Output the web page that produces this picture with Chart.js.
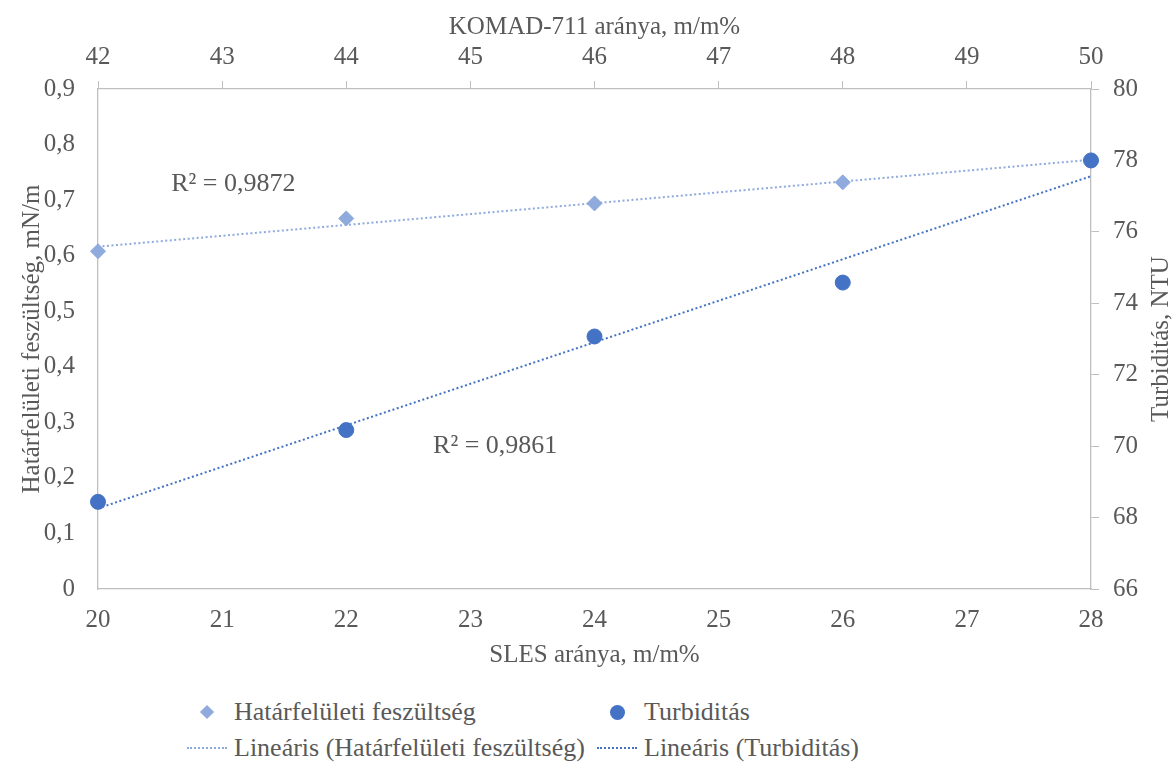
<!DOCTYPE html>
<html>
<head>
<meta charset="utf-8">
<script src="https://cdn.jsdelivr.net/npm/chart.js@4.4.0/dist/chart.umd.min.js"></script>
<style>
body { margin: 0; background: #fff; }
#wrap { position: relative; width: 1174px; height: 762px; }
#area { position: absolute; left: 0; top: 0; width: 1174px; height: 680px; }
#legenda { position: absolute; left: 187px; top: 694px; display: grid; grid-template-columns: 410px auto;
  font-family: 'Liberation Serif'; font-size: 26px; color: #595959; }
.item { display: flex; align-items: center; height: 36px; white-space: nowrap; }
.simbolo { width: 40px; height: 36px; display: flex; align-items: center; justify-content: center; margin-right: 7px; }
</style>
</head>
<body>
<div id="wrap">
  <div id="area"><canvas id="grafico"></canvas></div>
  <div id="legenda"></div>
</div>
<script>
// SLES arány (alsó tengely) és a mért értékek
const sles = [20, 22, 24, 26, 28];
const feszultseg = [0.608, 0.667, 0.694, 0.732, 0.771];
const turbiditas = [68.44, 70.45, 73.07, 74.58, 78.0];
const nevek = ['Határfelületi feszültség', 'Turbiditás'];
const r2Szoveg = ['R² = 0,9872', 'R² = 0,9861'];
const r2X = [21.09, 23.2];
const r2Y = [0.729, 0.257];

const szurke = '#595959';
const vilagosKek = '#8FAADC';
const sotetKek = '#4472C4';

function linearis(xs, ys) {
    let n = xs.length, mx = 0, my = 0, sxy = 0, sxx = 0;
    for (let i = 0; i < n; i++) { mx += xs[i] / n; my += ys[i] / n; }
    for (let i = 0; i < n; i++) {
        sxy += (xs[i] - mx) * (ys[i] - my);
        sxx += (xs[i] - mx) * (xs[i] - mx);
    }
    let b = sxy / sxx, a = my - b * mx;
    return [{ x: xs[0], y: a + b * xs[0] }, { x: xs[n - 1], y: a + b * xs[n - 1] }];
}

function pontok(xs, ys) {
    let p = [];
    for (let i = 0; i < xs.length; i++) p.push({ x: xs[i], y: ys[i] });
    return p;
}

// R² feliratok és a jobb oldali tengelycím (alulról felfelé olvasva, mint az Excelben)
const feliratok = {
    id: 'feliratok',
    afterDatasetsDraw(chart) {
        const ctx = chart.ctx;
        ctx.save();
        ctx.font = '26px "Liberation Serif"';
        ctx.fillStyle = szurke;
        ctx.textAlign = 'center';
        ctx.textBaseline = 'middle';
        for (let i = 0; i < r2Szoveg.length; i++) {
            ctx.fillText(r2Szoveg[i], chart.scales.x.getPixelForValue(r2X[i]), chart.scales.y.getPixelForValue(r2Y[i]));
        }
        ctx.font = '25px "Liberation Serif"';
        const y2 = chart.scales.y2;
        ctx.translate(y2.right - 13, (y2.top + y2.bottom) / 2);
        ctx.rotate(-Math.PI / 2);
        ctx.fillText('Turbiditás, NTU', 0, 0);
        ctx.restore();
    }
};

Chart.defaults.font.family = 'Liberation Serif';
Chart.defaults.color = szurke;

const tickBetu = { size: 25 };
const cimBetu = { size: 25 };
const tengelyVonal = { color: '#BFBFBF', width: 1.3 };

const config = {
    type: 'scatter',
    data: {
        datasets: [
            {
                label: nevek[1], data: pontok(sles, turbiditas), yAxisID: 'y2', order: 0,
                pointStyle: 'circle', pointRadius: 7.5, backgroundColor: sotetKek, borderColor: sotetKek, clip: false
            },
            {
                label: nevek[0], data: pontok(sles, feszultseg), yAxisID: 'y', order: 1,
                pointStyle: 'rectRot', pointRadius: 7.5, backgroundColor: vilagosKek, borderColor: vilagosKek, clip: false
            },
            {
                label: 'Lineáris (' + nevek[0] + ')', data: linearis(sles, feszultseg), yAxisID: 'y', order: 2,
                showLine: true, pointRadius: 0, borderColor: vilagosKek, borderWidth: 2, borderDash: [2, 2.5], clip: false
            },
            {
                label: 'Lineáris (' + nevek[1] + ')', data: linearis(sles, turbiditas), yAxisID: 'y2', order: 3,
                showLine: true, pointRadius: 0, borderColor: sotetKek, borderWidth: 2, borderDash: [2, 2.5], clip: false
            }
        ]
    },
    options: {
        responsive: true,
        maintainAspectRatio: false,
        animation: false,
        layout: { padding: 0 },
        plugins: { legend: { display: false }, tooltip: { enabled: false } },
        scales: {
            x: {
                type: 'linear', position: 'bottom', min: 20, max: 28,
                ticks: { stepSize: 1, font: tickBetu, padding: 16 },
                grid: { display: false, drawTicks: false },
                border: tengelyVonal,
                title: { display: true, text: 'SLES aránya, m/m%', font: cimBetu, padding: { top: 0, bottom: 10 } },
                afterFit: function (s) { s.height = 91; }
            },
            x2: {
                type: 'linear', position: 'top', min: 42, max: 50,
                ticks: { stepSize: 1, font: tickBetu, padding: 9 },
                grid: { drawOnChartArea: false, drawTicks: true, tickLength: 8, color: '#BFBFBF' },
                border: tengelyVonal,
                title: { display: true, text: 'KOMAD-711 aránya, m/m%', font: cimBetu, padding: { top: 12, bottom: 0 } },
                afterFit: function (s) { s.height = 89; }
            },
            y: {
                type: 'linear', position: 'left', min: 0, max: 0.9,
                ticks: {
                    stepSize: 0.1, font: tickBetu, padding: 23,
                    callback: function (v) { return v === 0 ? '0' : v.toFixed(1).replace('.', ','); }
                },
                grid: { display: false, drawTicks: false },
                border: tengelyVonal,
                title: { display: true, text: 'Határfelületi feszültség, mN/m', font: cimBetu, padding: { top: 17, bottom: 0 } },
                afterFit: function (s) { s.width = 98; }
            },
            y2: {
                type: 'linear', position: 'right', min: 66, max: 80,
                ticks: { stepSize: 2, font: tickBetu, padding: 14 },
                grid: { drawOnChartArea: false, drawTicks: true, tickLength: 8, color: '#BFBFBF' },
                border: tengelyVonal,
                title: { display: false },
                afterFit: function (s) { s.width = 83; }
            }
        }
    },
    plugins: [feliratok]
};

var ctx = document.getElementById('grafico').getContext('2d');
let myChart = new Chart(ctx, config);

// jelmagyarázat: Excel szerinti sorrend
var sorrend = [1, 0, 2, 3];
var legenda = document.getElementById('legenda');
for (let k = 0; k < sorrend.length; k++) {
    var ds = myChart.data.datasets[sorrend[k]];
    var item = document.createElement('div');
    item.className = 'item';
    var simbolo = document.createElement('span');
    simbolo.className = 'simbolo';
    var jel = document.createElement('span');
    if (ds.showLine) {
        jel.style.cssText = 'width:40px;height:0;border-top:2px dotted ' + ds.borderColor;
    } else if (ds.pointStyle === 'rectRot') {
        jel.style.cssText = 'width:10px;height:10px;transform:rotate(45deg);background:' + ds.backgroundColor;
    } else {
        jel.style.cssText = 'width:15px;height:15px;border-radius:50%;background:' + ds.backgroundColor;
    }
    simbolo.appendChild(jel);
    item.appendChild(simbolo);
    item.appendChild(document.createTextNode(ds.label));
    legenda.appendChild(item);
}
</script>
</body>
</html>
